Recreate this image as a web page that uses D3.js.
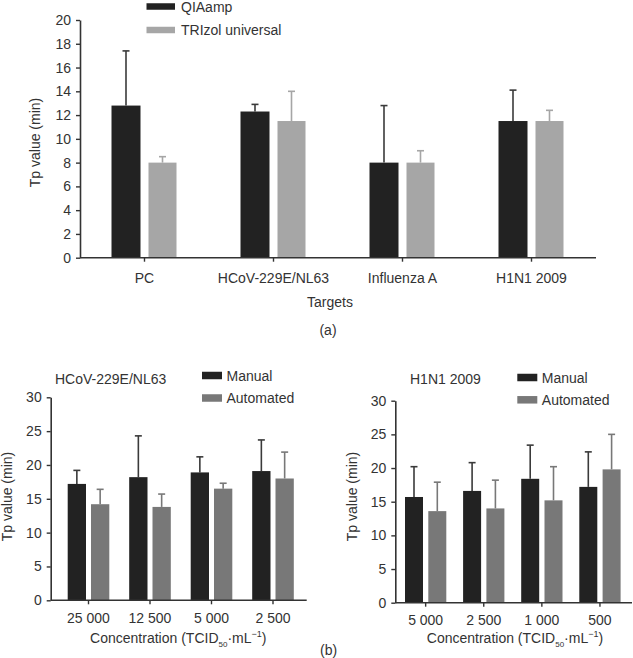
<!DOCTYPE html>
<html>
<head>
<meta charset="utf-8">
<script src="https://cdn.jsdelivr.net/npm/d3@7"></script>
<style>
  html, body { margin: 0; padding: 0; background: #fff; }
  svg { display: block; }
  text { font-family: "Liberation Sans", Arial, Helvetica, sans-serif; fill: #333; }
</style>
</head>
<body>
<svg id="chart" width="633" height="658"></svg>
<script>
// ---------- DATA ----------
// Panel (a)
const targets = ["PC", "HCoV-229E/NL63", "Influenza A", "H1N1 2009"];
const qiaampMean = [12.8, 12.3, 8.0, 11.5];
const qiaampErr = [17.4, 12.9, 12.8, 14.1];      // top of error bar
const trizolMean = [8.0, 11.5, 8.0, 11.5];
const trizolErr = [8.5, 14.0, 9.0, 12.4];
const yTicksA = [0, 2, 4, 6, 8, 10, 12, 14, 16, 18, 20];
const seriesNamesA = ["QIAamp", "TRIzol universal"];

// Panel (b) left: HCoV-229E/NL63
const concHCoV = ["25 000", "12 500", "5 000", "2 500"];
const manualHCoV = [17.2, 18.2, 18.9, 19.1];
const manualHCoVErr = [19.2, 24.3, 21.2, 23.7];
const autoHCoV = [14.2, 13.8, 16.5, 18.0];
const autoHCoVErr = [16.4, 15.7, 17.3, 21.9];

// Panel (b) right: H1N1 2009
const concH1N1 = ["5 000", "2 500", "1 000", "500"];
const manualH1N1 = [15.7, 16.6, 18.4, 17.2];
const manualH1N1Err = [20.2, 20.8, 23.4, 22.4];
const autoH1N1 = [13.6, 14.0, 15.2, 19.8];
const autoH1N1Err = [17.9, 18.2, 20.2, 25.0];

const yTicksB = [0, 5, 10, 15, 20, 25, 30];
const seriesNamesB = ["Manual", "Automated"];

// ---------- STYLE ----------
const svg = d3.select("#chart");
const FS = 14;
const AX = "#333";
const DARK = "#222222";
const LIGHT_A = "#a6a6a6";
const GREY_B = "#787878";

function drawPanel(cfg) {
  const g = svg.append("g");
  const y = d3.scaleLinear().domain(cfg.yDomain).range([cfg.y0, cfg.y1]);
  const x = d3.scaleBand().domain(cfg.cats).range(cfg.bandRange).padding(0);
  const cx = c => x(c) + x.bandwidth() / 2;

  const series = [
    { mean: cfg.s1, err: cfg.e1, color: DARK, errColor: "#3a3a3a", off: -cfg.gap / 2 - cfg.barW1 , w: cfg.barW1 },
    { mean: cfg.s2, err: cfg.e2, color: cfg.color2, errColor: cfg.color2, off: cfg.gap / 2, w: cfg.barW2 }
  ];

  series.forEach(s => {
    // error bars (upward only)
    cfg.cats.forEach((c, i) => {
      const xc = cx(c) + s.off + s.w / 2;
      g.append("line")
        .attr("x1", xc).attr("x2", xc)
        .attr("y1", y(s.mean[i])).attr("y2", y(s.err[i]))
        .attr("stroke", s.errColor).attr("stroke-width", 1.6);
      g.append("line")
        .attr("x1", xc - cfg.cap / 2).attr("x2", xc + cfg.cap / 2)
        .attr("y1", y(s.err[i])).attr("y2", y(s.err[i]))
        .attr("stroke", s.errColor).attr("stroke-width", 1.6);
    });
    g.selectAll(null).data(cfg.cats).enter().append("rect")
      .attr("x", c => cx(c) + s.off)
      .attr("width", s.w)
      .attr("y", (c, i) => y(s.mean[i]))
      .attr("height", (c, i) => y(0) - y(s.mean[i]))
      .attr("fill", s.color);
  });

  // y axis
  const yAxis = d3.axisLeft(y).tickValues(cfg.yTicks).tickSize(4).tickPadding(5).tickSizeOuter(0);
  const ya = g.append("g").attr("transform", `translate(${cfg.axisX0},0)`).call(yAxis);
  ya.select(".domain").attr("stroke", AX).attr("stroke-width", 1.6);
  ya.selectAll(".tick line").attr("stroke", AX).attr("stroke-width", 1.4);
  ya.selectAll(".tick text").attr("font-size", FS).attr("fill", "#333")
    .attr("font-family", '"Liberation Sans", Arial, sans-serif');

  // x axis
  g.append("line")
    .attr("x1", cfg.axisX0).attr("x2", cfg.axisX1)
    .attr("y1", y(0)).attr("y2", y(0))
    .attr("stroke", AX).attr("stroke-width", 1.6);
  cfg.cats.forEach(c => {
    g.append("line")
      .attr("x1", cx(c)).attr("x2", cx(c))
      .attr("y1", y(0)).attr("y2", y(0) + 4)
      .attr("stroke", AX).attr("stroke-width", 1.4);
    g.append("text")
      .attr("x", cx(c)).attr("y", y(0) + cfg.xLabelDy)
      .attr("text-anchor", "middle").attr("font-size", FS)
      .text(c);
  });

  // y title
  g.append("text")
    .attr("transform", `translate(${cfg.yTitleX},${cfg.yTitleY}) rotate(-90)`)
    .attr("text-anchor", "middle").attr("font-size", FS)
    .text("Tp value (min)");

  // legend
  cfg.legend.names.forEach((n, i) => {
    const ly = cfg.legend.y + i * cfg.legend.dy;
    g.append("rect")
      .attr("x", cfg.legend.x).attr("y", ly - cfg.legend.h / 2)
      .attr("width", cfg.legend.w).attr("height", cfg.legend.h)
      .attr("fill", i === 0 ? DARK : cfg.color2);
    g.append("text")
      .attr("x", cfg.legend.x + cfg.legend.w + cfg.legend.tx).attr("y", ly + 5)
      .attr("font-size", FS).text(n);
  });
  return { g, x, y };
}

// Panel (a)
drawPanel({
  cats: targets, s1: qiaampMean, e1: qiaampErr, s2: trizolMean, e2: trizolErr,
  color2: LIGHT_A, yDomain: [0, 20], y0: 257.7, y1: 20, yTicks: yTicksA,
  bandRange: [80, 596], axisX0: 80, axisX1: 596,
  barW1: 29, barW2: 28, gap: 8, cap: 7, xLabelDy: 25.6,
  yTitleX: 39.5, yTitleY: 142.5,
  legend: { names: seriesNamesA, x: 146.5, y: 6.5, dy: 23.5, w: 28.5, h: 6.5, tx: 6 }
});
svg.append("text").attr("x", 330).attr("y", 306.5).attr("text-anchor", "middle")
  .attr("font-size", FS).text("Targets");
svg.append("text").attr("x", 328).attr("y", 334.5).attr("text-anchor", "middle")
  .attr("font-size", FS).text("(a)");

// Panel (b) left
drawPanel({
  cats: concHCoV, s1: manualHCoV, e1: manualHCoVErr, s2: autoHCoV, e2: autoHCoVErr,
  color2: GREY_B, yDomain: [0, 30], y0: 600.3, y1: 397.3, yTicks: yTicksB,
  bandRange: [57.75, 303.75], axisX0: 50.7, axisX1: 306.7,
  barW1: 18.3, barW2: 18.3, gap: 5, cap: 7, xLabelDy: 22.4,
  yTitleX: 12, yTitleY: 496.5,
  legend: { names: seriesNamesB, x: 202, y: 375.5, dy: 22.5, w: 20, h: 7.5, tx: 4.5 }
});
// Panel (b) right
drawPanel({
  cats: concH1N1, s1: manualH1N1, e1: manualH1N1Err, s2: autoH1N1, e2: autoH1N1Err,
  color2: GREY_B, yDomain: [0, 30], y0: 602.7, y1: 400.7, yTicks: yTicksB,
  bandRange: [396.6, 629], axisX0: 395.3, axisX1: 632,
  barW1: 18, barW2: 18, gap: 5.3, cap: 7, xLabelDy: 22.3,
  yTitleX: 357, yTitleY: 496.5,
  legend: { names: seriesNamesB, x: 517.3, y: 377.5, dy: 22.3, w: 20, h: 7.5, tx: 4.5 }
});

// panel titles
svg.append("text").attr("x", 55).attr("y", 384.3).attr("font-size", FS).text("HCoV-229E/NL63");
svg.append("text").attr("x", 410).attr("y", 384.3).attr("font-size", FS).text("H1N1 2009");

// x titles with sub/superscripts
function concTitle(xc, yb) {
  const t = svg.append("text").attr("x", xc).attr("y", yb)
    .attr("text-anchor", "middle").attr("font-size", FS);
  t.append("tspan").text("Concentration (TCID");
  t.append("tspan").attr("font-size", 8).attr("dy", 4).text("50");
  t.append("tspan").attr("dy", -4).text("\u00B7mL");
  t.append("tspan").attr("font-size", 9).attr("dy", -6).text("\u22121");
  t.append("tspan").attr("dy", 6).text(")");
}
concTitle(178.3, 643.3);
concTitle(515, 643.3);

svg.append("text").attr("x", 320).attr("y", 655).attr("font-size", FS).text("(b)");
</script>
</body>
</html>
